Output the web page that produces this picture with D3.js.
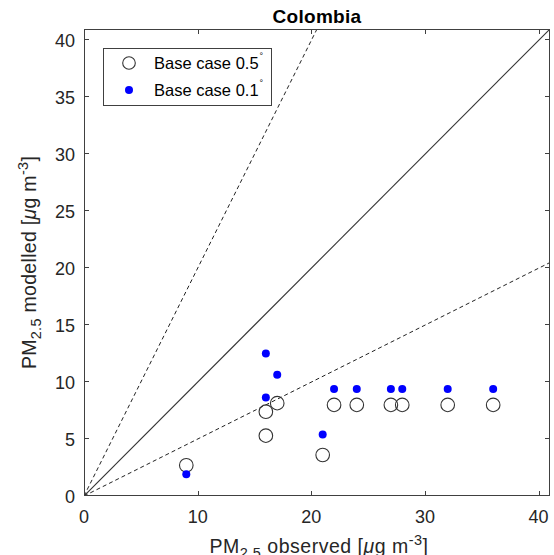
<!DOCTYPE html>
<html>
<head>
<meta charset="utf-8">
<script src="https://cdn.jsdelivr.net/npm/d3@7"></script>
<style>
  html, body { margin: 0; padding: 0; background: #fff; }
  svg { display: block; font-family: "Liberation Sans", Arial, Helvetica, sans-serif; }
</style>
</head>
<body>
<svg id="chart" width="554" height="555"></svg>
<script>
// PM2.5 observed vs modelled, Colombia
const observed05 = [9, 16, 16, 17, 21, 22, 24, 27, 28, 32, 36];
const modelled05 = [2.7, 7.4, 5.3, 8.15, 3.6, 8.0, 8.0, 8.0, 8.0, 8.0, 8.0];
const observed01 = [9, 16, 16, 17, 21, 22, 24, 27, 28, 32, 36];
const modelled01 = [1.9, 12.5, 8.65, 10.65, 5.4, 9.4, 9.4, 9.4, 9.4, 9.4, 9.4];
const xTicks = [0, 10, 20, 30, 40];
const yTicks = [0, 5, 10, 15, 20, 25, 30, 35, 40];
const refSlopes = [1, 2, 0.5];
const seriesNames = ["Base case 0.5", "Base case 0.1"];
const titleText = "Colombia";

const svg = d3.select("#chart");
const plotLeft = 84, plotRight = 550, plotTop = 29, plotBottom = 496;
const axisColor = "#404040";

const x = d3.scaleLinear().domain([0, 41]).range([plotLeft, plotRight]);
const y = d3.scaleLinear().domain([0, 41]).range([plotBottom, plotTop]);

// clip region for the reference lines
svg.append("defs").append("clipPath").attr("id", "plotClip")
  .append("rect").attr("x", plotLeft).attr("y", plotTop)
  .attr("width", plotRight - plotLeft).attr("height", plotBottom - plotTop);

// 1:1, 2:1 and 1:2 reference lines
const line = d3.line().x(d => x(d[0])).y(d => y(d[1]));
const refG = svg.append("g").attr("clip-path", "url(#plotClip)");
refSlopes.forEach(s => {
  const xEnd = Math.min(41, 41 / s);
  refG.append("path")
    .attr("d", line([[0, 0], [xEnd, xEnd * s]]))
    .attr("fill", "none")
    .attr("stroke", s === 1 ? "#333" : "#222")
    .attr("stroke-width", s === 1 ? 1.1 : 1)
    .attr("stroke-dasharray", s === 1 ? null : "4,3");
});

// Base case 0.5° — open circles
svg.append("g").selectAll("circle")
  .data(observed05.map((v, i) => [v, modelled05[i]]))
  .join("circle")
  .attr("cx", d => x(d[0])).attr("cy", d => y(d[1]))
  .attr("r", 6.8)
  .attr("fill", "none").attr("stroke", "#333").attr("stroke-width", 1.1);

// Base case 0.1° — filled blue dots
svg.append("g").selectAll("circle")
  .data(observed01.map((v, i) => [v, modelled01[i]]))
  .join("circle")
  .attr("cx", d => x(d[0])).attr("cy", d => y(d[1]))
  .attr("r", 4)
  .attr("fill", "#0000ff");

// axes box with inward ticks on all four sides
const axG = svg.append("g").attr("shape-rendering", "crispEdges");
axG.append("rect")
  .attr("x", plotLeft + 0.5).attr("y", plotTop + 0.5)
  .attr("width", plotRight - plotLeft - 1).attr("height", plotBottom - plotTop - 1)
  .attr("fill", "none").attr("stroke", axisColor).attr("stroke-width", 1);

const tickLen = 5;
xTicks.forEach(t => {
  const px = Math.round(x(t)) + 0.5;
  axG.append("line").attr("x1", px).attr("x2", px).attr("y1", plotBottom).attr("y2", plotBottom - tickLen)
    .attr("stroke", axisColor);
  axG.append("line").attr("x1", px).attr("x2", px).attr("y1", plotTop).attr("y2", plotTop + tickLen)
    .attr("stroke", axisColor);
});
yTicks.forEach(t => {
  const py = Math.round(y(t)) - 0.5;
  axG.append("line").attr("x1", plotLeft).attr("x2", plotLeft + tickLen).attr("y1", py).attr("y2", py)
    .attr("stroke", axisColor);
  axG.append("line").attr("x1", plotRight).attr("x2", plotRight - tickLen).attr("y1", py).attr("y2", py)
    .attr("stroke", axisColor);
});

// tick labels
svg.append("g").selectAll("text")
  .data(xTicks).join("text")
  .attr("x", d => x(d)).attr("y", plotBottom + 26.5)
  .attr("text-anchor", "middle")
  .attr("font-size", 18).attr("fill", "#262626")
  .text(d => d);

svg.append("g").selectAll("text")
  .data(yTicks).join("text")
  .attr("x", plotLeft - 9).attr("y", d => y(d) + 7)
  .attr("text-anchor", "end")
  .attr("font-size", 18).attr("fill", "#262626")
  .text(d => d);

// title
svg.append("text")
  .attr("x", (plotLeft + plotRight) / 2).attr("y", 23)
  .attr("text-anchor", "middle")
  .attr("font-size", 19).attr("font-weight", "bold").attr("fill", "#000")
  .attr("letter-spacing", 0.3)
  .text(titleText);

// axis label builder: PM with subscript 2.5, unit with superscript -3
function pmLabel(sel, word) {
  sel.append("tspan").text("PM");
  sel.append("tspan").attr("font-size", 14.5).attr("dy", 5).text("2.5");
  sel.append("tspan").attr("dy", -5).text(" " + word + " [");
  sel.append("tspan").attr("font-style", "italic").text("\u03BC");
  sel.append("tspan").text("g m");
  sel.append("tspan").attr("font-size", 14.5).attr("dy", -8).text("-3");
  sel.append("tspan").attr("dy", 8).text("]");
}

const xLab = svg.append("text")
  .attr("x", 319).attr("y", 553)
  .attr("text-anchor", "middle")
  .attr("font-size", 19.5).attr("letter-spacing", 0.5).attr("fill", "#262626");
pmLabel(xLab, "observed");

const yLab = svg.append("text")
  .attr("transform", `translate(36,${(plotTop + plotBottom) / 2}) rotate(-90)`)
  .attr("text-anchor", "middle")
  .attr("font-size", 19.5).attr("letter-spacing", 0.3).attr("fill", "#262626");
pmLabel(yLab, "modelled");

// legend
const lg = svg.append("g");
lg.append("rect")
  .attr("x", 103.5).attr("y", 48.5).attr("width", 168).attr("height", 57)
  .attr("fill", "#fff").attr("stroke", axisColor).attr("shape-rendering", "crispEdges");
const legendRows = [
  { name: seriesNames[0], cy: 63, open: true },
  { name: seriesNames[1], cy: 90, open: false }
];
legendRows.forEach(r => {
  if (r.open) {
    lg.append("circle").attr("cx", 129).attr("cy", r.cy).attr("r", 6.3)
      .attr("fill", "none").attr("stroke", "#333").attr("stroke-width", 1.1);
  } else {
    lg.append("circle").attr("cx", 129).attr("cy", r.cy).attr("r", 4).attr("fill", "#0000ff");
  }
  const t = lg.append("text")
    .attr("x", 154).attr("y", r.cy + 6)
    .attr("font-size", 16.5).attr("fill", "#000");
  t.append("tspan").text(r.name);
  t.append("tspan").attr("font-size", 9).attr("dx", 1).attr("dy", -10).text("\u00B0");
});
</script>
</body>
</html>
